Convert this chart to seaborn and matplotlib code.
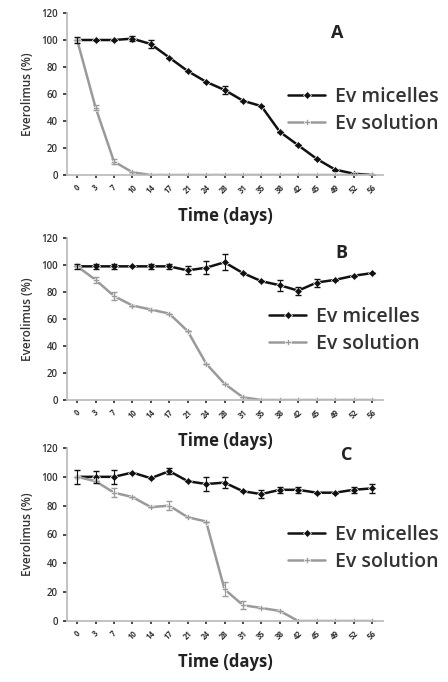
import numpy as np
import pandas as pd
import matplotlib
matplotlib.use("Agg")
import matplotlib.pyplot as plt
import seaborn as sns

sns.set_theme(style="ticks")
plt.rcParams['font.family'] = ['Open Sans', 'DejaVu Sans']

days = ["0", "3", "7", "10", "14", "17", "21", "24", "28", "31", "35", "38", "42", "45", "49", "52", "56"]

a_mic = [100, 100, 100, 101, 97, 87, 77, 69, 63, 55, 51, 32, 22, 12, 4, 1, 0]
a_sol = [100, 50, 10, 2, 0, 0, 0, 0, 0, 0, 0, 0, 0, 0, 0, 0, 0]
a_mic_err = [2, 0, 0, 2, 3, 0, 0, 0, 3, 0, 0, 0, 0, 0, 0, 0, 0]
a_sol_err = [0, 2, 2, 0, 0, 0, 0, 0, 0, 0, 0, 0, 0, 0, 0, 0, 0]

b_mic = [99, 99, 99, 99, 99, 99, 96, 98, 102, 94, 88, 85, 81, 87, 89, 92, 94]
b_sol = [99, 89, 77, 70, 67, 64, 51, 27, 12, 2, 0, 0, 0, 0, 0, 0, 0]
b_mic_err = [2, 2, 2, 0, 2, 2, 3, 5, 6, 0, 0, 4, 3, 3, 0, 0, 0]
b_sol_err = [0, 2, 3, 0, 0, 0, 0, 0, 0, 0, 0, 0, 0, 0, 0, 0, 0]

c_mic = [100, 100, 100, 103, 99, 104, 97, 95, 96, 90, 88, 91, 91, 89, 89, 91, 92]
c_sol = [100, 97, 89, 86, 79, 80, 72, 69, 22, 11, 9, 7, 0, 0, 0, 0, 0]
c_mic_err = [5, 4, 5, 0, 0, 2, 0, 5, 4, 0, 3, 2, 2, 0, 0, 2, 3]
c_sol_err = [0, 0, 3, 0, 0, 3, 0, 0, 5, 3, 0, 0, 0, 0, 0, 0, 0]

panels = [
    ("A", a_mic, a_sol, a_mic_err, a_sol_err),
    ("B", b_mic, b_sol, b_mic_err, b_sol_err),
    ("C", c_mic, c_sol, c_mic_err, c_sol_err),
]

fig = plt.figure(figsize=(4.48, 6.82), dpi=100)
W, H = 448, 682
boxes = [(67, 13, 383, 175), (67, 238, 383, 400), (67, 448, 383, 621)]
letter_pos = [(0.855, 0.877), (0.87, 0.91), (0.886, 0.96)]
legend_anchor = [(0.70, 0.40), (0.64, 0.43), (0.70, 0.42)]

for (label, mic, sol, mic_err, sol_err), (x0, y0, x1, y1), lp, la in zip(panels, boxes, letter_pos, legend_anchor):
    ax = fig.add_axes([x0 / W, 1 - y1 / H, (x1 - x0) / W, (y1 - y0) / H])
    ax.patch.set_visible(False)
    x = np.arange(len(days))
    df = pd.DataFrame({"x": np.concatenate([x, x]),
                       "y": mic + sol,
                       "series": ["Ev micelles"] * len(x) + ["Ev solution"] * len(x)})
    sns.lineplot(data=df, x="x", y="y", hue="series", style="series",
                 palette={"Ev micelles": "#111111", "Ev solution": "#9a9a9a"},
                 markers={"Ev micelles": "D", "Ev solution": "P"},
                 dashes=False, markersize=4.5, linewidth=1.8, ax=ax,
                 markeredgewidth=0.5)
    ax.errorbar(x, sol, yerr=sol_err, fmt="none", ecolor="#9a9a9a", elinewidth=0.8, capsize=2)
    ax.errorbar(x, mic, yerr=mic_err, fmt="none", ecolor="#111111", elinewidth=0.8, capsize=2)
    ax.set_xlim(-0.55, 16.6)
    ax.set_ylim(0, 120)
    ax.set_yticks(range(0, 121, 20))
    ax.set_xticks(x)
    ax.set_xticklabels(days, rotation=45, fontsize=5.5, color="#333333", fontweight="bold")
    ax.tick_params(axis="y", labelsize=7, length=3, colors="#333333")
    for t in ax.get_yticklabels():
        t.set_fontweight("semibold")
    ax.tick_params(axis="x", length=2, colors="#333333", pad=4)
    for s in ["top", "right"]:
        ax.spines[s].set_visible(False)
    for s in ["left", "bottom"]:
        ax.spines[s].set_color("#bbbbbb")
    ax.set_ylabel("Everolimus (%)", fontsize=8.5, color="#333333", labelpad=5,
                  fontweight="semibold")
    ax.set_xlabel("Time (days)", fontsize=12, fontweight="bold", color="#222222", labelpad=8)
    ax.text(lp[0], lp[1], label, transform=ax.transAxes, fontsize=13,
            fontweight="bold", color="#222222", ha="center", va="center")
    leg = ax.legend(loc="center left", bbox_to_anchor=la, frameon=False,
                    fontsize=14, handlelength=1.9, handletextpad=0.5, labelspacing=0.35,
                    borderaxespad=0, borderpad=0)
    for t in leg.get_texts():
        t.set_color("#333333")
        t.set_fontweight("semibold")

fig.savefig("out.png", dpi=100)
